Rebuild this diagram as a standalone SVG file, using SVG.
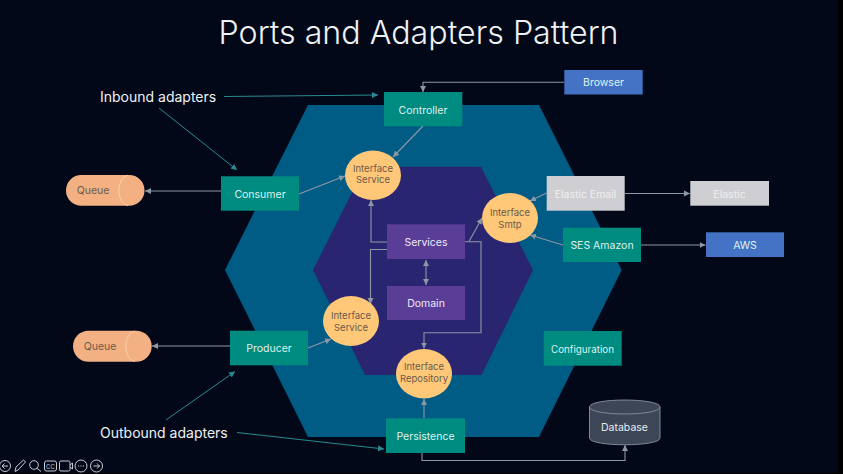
<svg xmlns="http://www.w3.org/2000/svg" width="843" height="474" viewBox="0 0 843 474">
<style>
text{font-family:"Inter","Noto Sans","Liberation Sans",sans-serif;text-anchor:middle;font-size:10.500px}
.t{fill:#dff2f0}.d{fill:#6b5a4a;font-size:9.500px}.big{fill:#eef2f5;font-size:14px;text-anchor:start}
.teal{fill:#008b80}.blue{fill:#4472c4}.gray{fill:#cfcfd3}.pur{fill:#5a3d96}.or{fill:#ffc878}.q{fill:#f3b183}
.c{fill:none;stroke:#8d98a5;stroke-width:1.100}
.a{fill:none;stroke:#2a8a92;stroke-width:1}
.ic{fill:none;stroke:#c5cbd0;stroke-width:1}
</style>
<defs>
<marker id="g" markerUnits="userSpaceOnUse" markerWidth="7" markerHeight="7" refX="6" refY="3.500" orient="auto"><path d="M0 .5L6 3.500L0 6.500z" fill="#8d98a5"/></marker>
<marker id="h" markerUnits="userSpaceOnUse" markerWidth="7" markerHeight="7" refX="6" refY="3.500" orient="auto"><path d="M0 .5L6 3.500L0 6.500z" fill="#2a8a92"/></marker>
<marker id="gs" markerUnits="userSpaceOnUse" markerWidth="7" markerHeight="7" refX="1" refY="3.500" orient="auto"><path d="M7 .5L1 3.500L7 6.500z" fill="#8d98a5"/></marker>
</defs>
<rect width="843" height="474" fill="#020817"/>
<rect x="838" width="5" height="474" fill="#000"/>
<rect y="473" width="843" height="1" fill="#000"/>
<polygon id="outer-hexagon" points="308,105 539,105 621.7,270 539,437 308,437 225,270" fill="#005c85"/>
<polygon id="inner-hexagon" points="365,166.7 481,166.7 533,270 481.5,375 365,375 313,270" fill="#2a2570"/>
<text x="418.500" y="44" style="font-size:32.200px;fill:#eef2f5;font-weight:300">Ports and Adapters Pattern</text>
<text class="big" x="100" y="102">Inbound adapters</text>
<text class="big" x="100" y="437.500">Outbound adapters</text>
<g id="connectors">
<path class="a" marker-end="url(#h)" d="M224 96.500L378 95"/>
<path class="a" marker-end="url(#h)" d="M159 108L237 170"/>
<path class="a" marker-end="url(#h)" d="M166 420L235 371.500"/>
<path class="a" marker-end="url(#h)" d="M237 432.500L384 449"/>
<path class="c" marker-end="url(#g)" d="M564 82.300H423V92"/>
<path class="c" marker-end="url(#g)" d="M423 126L393 157"/>
<path class="c" marker-end="url(#g)" d="M221 191H145"/>
<path class="c" marker-end="url(#g)" d="M299 194L345 176"/>
<path class="c" marker-end="url(#g)" d="M387 242H371V200"/>
<path class="c" marker-end="url(#g)" d="M387 249.500H370.500V304"/>
<path class="c" marker-end="url(#g)" d="M230 346H152"/>
<path class="c" marker-end="url(#g)" d="M308 348L331 339"/>
<path class="c" marker-end="url(#g)" d="M469 241.500L482 218"/>
<path class="c" marker-end="url(#g)" d="M465 241.700H481V332.700H424V348.500"/>
<path class="c" marker-start="url(#gs)" marker-end="url(#g)" d="M426 260V285"/>
<path class="c" marker-end="url(#g)" d="M546.500 193L530 201"/>
<path class="c" marker-end="url(#g)" d="M563 245L530 235"/>
<path class="c" marker-end="url(#g)" d="M625 193.500H690"/>
<path class="c" marker-end="url(#g)" d="M641 245H705.500"/>
<path class="c" marker-end="url(#g)" d="M424 418V399"/>
<path class="c" marker-end="url(#g)" d="M422 453V460.500H625V445"/>
</g>
<g id="controller"><rect class="teal" x="384" y="92" width="78.300" height="34.300"/><text class="t" x="423" y="113.500">Controller</text></g>
<g id="browser"><rect class="blue" x="564.300" y="70" width="78.400" height="24.500"/><text class="t" x="603.500" y="86">Browser</text></g>
<g id="consumer"><rect class="teal" x="221" y="176.300" width="78" height="34.400"/><text class="t" x="260" y="197.800">Consumer</text></g>
<g id="producer"><rect class="teal" x="230" y="330.700" width="78" height="34.600"/><text class="t" x="269" y="352">Producer</text></g>
<g id="persistence"><rect class="teal" x="386" y="418.300" width="79" height="34.700"/><text class="t" x="425.500" y="440">Persistence</text></g>
<g id="configuration"><rect class="teal" x="543.700" y="331" width="78" height="34.700"/><text class="t" x="582.500" y="352.500" style="font-size:9.800px">Configuration</text></g>
<g id="elastic-email"><rect class="gray" x="546.700" y="176" width="78" height="34.700"/><text x="585.500" y="197.500" fill="#eeeef0">Elastic Email</text></g>
<g id="elastic"><rect class="gray" x="690.300" y="181" width="78.700" height="24.700"/><text x="729.500" y="197.500" fill="#eeeef0">Elastic</text></g>
<g id="ses-amazon"><rect class="teal" x="563" y="227.700" width="78" height="34.300"/><text class="t" x="602" y="249">SES Amazon</text></g>
<g id="aws"><rect class="blue" x="706" y="232.300" width="78" height="24.700"/><text class="t" x="745" y="249">AWS</text></g>
<g id="services"><rect class="pur" x="387" y="224.300" width="78" height="34.700"/><text x="426" y="246" fill="#efe9f8">Services</text></g>
<g id="domain"><rect class="pur" x="387" y="286" width="78" height="34"/><text x="426" y="307" fill="#efe9f8">Domain</text></g>
<g id="interface-service-1"><ellipse class="or" cx="373" cy="175.300" rx="28" ry="24.700"/><text class="d" x="373" y="171.500">Interface</text><text class="d" x="373" y="183">Service</text></g>
<g id="interface-smtp"><ellipse class="or" cx="510" cy="218" rx="28" ry="25"/><text class="d" x="510" y="216">Interface</text><text class="d" x="510" y="227.500">Smtp</text></g>
<g id="interface-service-2"><ellipse class="or" cx="351" cy="321" rx="28" ry="25"/><text class="d" x="351" y="319">Interface</text><text class="d" x="351" y="330.500">Service</text></g>
<g id="interface-repository"><ellipse class="or" cx="424" cy="373.700" rx="28" ry="24.700"/><text class="d" x="424" y="370">Interface</text><text class="d" x="424" y="381.500">Repository</text></g>
<g id="queue-1"><rect class="q" x="66" y="175" width="78.500" height="30.700" rx="15.300"/><path d="M128 175.200A10 15.200 0 0 0 128 205.500" fill="none" stroke="#f8cfae"/><text class="d" x="93" y="194" style="font-size:10.500px">Queue</text></g>
<g id="queue-2"><rect class="q" x="73" y="330.700" width="78.700" height="31" rx="15.500"/><path d="M135 331A10 15.300 0 0 0 135 361.500" fill="none" stroke="#f8cfae"/><text class="d" x="100" y="350" style="font-size:10.500px">Queue</text></g>
<g id="database"><path d="M589.500 407V438C589.500 447 660 447 660 438V407C660 397.700 589.500 397.700 589.500 407Z" fill="#3d4656" stroke="#7f8896" stroke-width="1"/><path d="M589.500 407C589.500 416.300 660 416.300 660 407" fill="none" stroke="#7f8896"/><text x="624.500" y="431" fill="#e8ebef">Database</text></g>
<g id="slideshow-controls">
<circle class="ic" cx="5" cy="466" r="5.500"/><path class="ic" d="M8 466H2M4.500 463.500L2 466L4.500 468.500"/>
<path class="ic" d="M15 471.500L16 467L23.500 460L25.500 462L18 470Z"/>
<circle class="ic" cx="34" cy="465" r="4.300"/><path class="ic" d="M37 468.300L41 471.500"/>
<rect class="ic" x="44.500" y="461" width="12" height="10" rx="2"/><text x="50.500" y="468.500" style="font-size:6px;fill:#c5cbd0">CC</text>
<rect class="ic" x="59.500" y="461" width="10.500" height="10" rx="1.500"/><path class="ic" d="M70 465L72.500 463V469L70 467"/>
<circle class="ic" cx="81" cy="466" r="6"/><path class="ic" d="M78 466H84" stroke-dasharray="1.200 1.200"/>
<circle class="ic" cx="96.500" cy="466" r="6"/><path class="ic" d="M93.500 466H99.500M97 463.500L99.500 466L97 468.500"/>
</g>
</svg>
